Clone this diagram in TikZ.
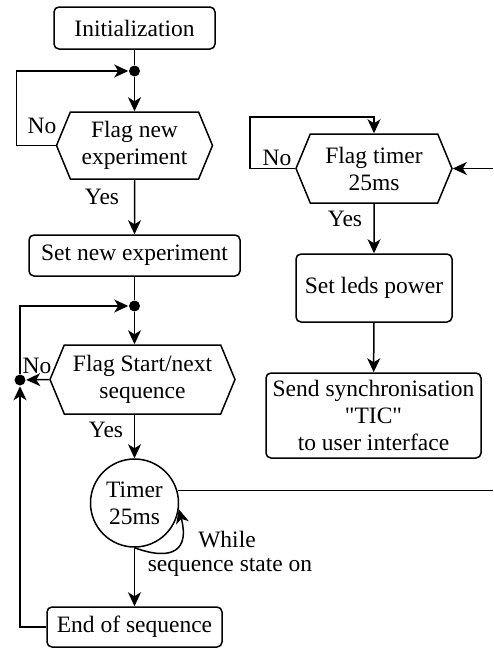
\documentclass[tikz,border=0pt]{standalone}
\usepackage{fontspec}
\setmainfont{Liberation Serif}[Ligatures=TeXOff]
\usetikzlibrary{shapes.symbols,arrows.meta}

\begin{document}
\begin{tikzpicture}[x=1pt,y=1pt,line width=1.5pt,
    every node/.style={font=\fontsize{23.5}{27}\selectfont},
    box/.style={draw,rounded corners=5pt,align=center,inner sep=0pt},
    test/.style={draw,signal,signal to=east and west,signal pointer angle=135,align=center,inner sep=0pt},
    dot/.style={circle,fill,inner sep=0pt,minimum size=11pt},
    flow/.style={-{Stealth[length=14pt,width=13pt,inset=4pt]}}]
    \useasboundingbox (0,0) rectangle (493,-648);

    % main loop
    \node[box,minimum width=161pt,minimum height=42pt] (init) at (134.5,-28) {Initialization};
    \node[dot] (dotA) at (134.5,-71) {};
    \node[test,minimum width=156pt,minimum height=67pt] (flagexp) at (134.5,-145.5) {Flag new\\experiment};
    \node[box,minimum width=211pt,minimum height=41pt] (setexp) at (134.5,-255.5) {Set new experiment};
    \node[dot] (dotB) at (134.5,-306) {};
    \node[test,minimum width=185pt,minimum height=69pt] (flagseq) at (142.5,-379.5) {Flag Start/next\\sequence};
    \node[dot] (dotC) at (20,-380) {};
    \node[circle,draw,minimum size=88pt,inner sep=0pt,align=center] (timer) at (134.5,-503) {Timer\\25ms};
    \node[box,minimum width=175pt,minimum height=40pt] (endseq) at (134.5,-627) {End of sequence};

    % timer interrupt
    \node[test,minimum width=156pt,minimum height=69pt] (flagtim) at (374,-168.5) {Flag timer\\25ms};
    \node[box,minimum width=156pt,minimum height=68pt] (leds) at (374,-288) {Set leds power};
    \node[box,minimum width=215pt,minimum height=85pt] (sync) at (373.5,-415.5) {Send synchronisation\\"TIC"\\to user interface};

    \node (noexp) at (42,-126) {No};
    \node (yesexp) at (102,-197) {Yes};
    \node (noseq) at (37,-366) {No};
    \node (yesseq) at (106,-430) {Yes};
    \node (notim) at (277,-158) {No};
    \node (yestim) at (345,-219) {Yes};
    \node (while) at (227,-540) {While};
    \node (seqon) at (230,-567) {sequence state on};

    \coordinate (loopT) at (250,-117);
    \coordinate (rimA) at (493,-491);
    \coordinate (rimB) at (493,-168.5);

    \draw (init) -- (dotA);
    \draw[flow] (dotA) -- (flagexp.north);
    \draw[flow] (flagexp.west) -- ++(-39,0) |- (dotA);
    \draw[flow] (flagexp) -- (setexp);
    \draw (setexp) -- (dotB);
    \draw[flow] (dotB) -- (dotB |- flagseq.north);
    \draw[flow] (flagseq.west) -- (dotC);
    \draw[flow] (dotC) |- (dotB);
    \draw[flow] (endseq.west) -| (dotC);
    \draw[flow] (flagseq.south -| dotB) -- (timer);
    \draw[flow] (timer) -- (endseq);
    \draw[flow] (timer.south) to[out=-20,in=-75,looseness=1.8] (timer.-8);
    \draw (timer.16) -- (timer.16 -| rimA);

    \draw[flow] (rimB) -- (flagtim.east);
    \draw[flow] (flagtim.west) -| (loopT) -| (flagtim.north);
    \draw[flow] (flagtim) -- (leds);
    \draw[flow] (leds) -- (sync);
\end{tikzpicture}
\end{document}
